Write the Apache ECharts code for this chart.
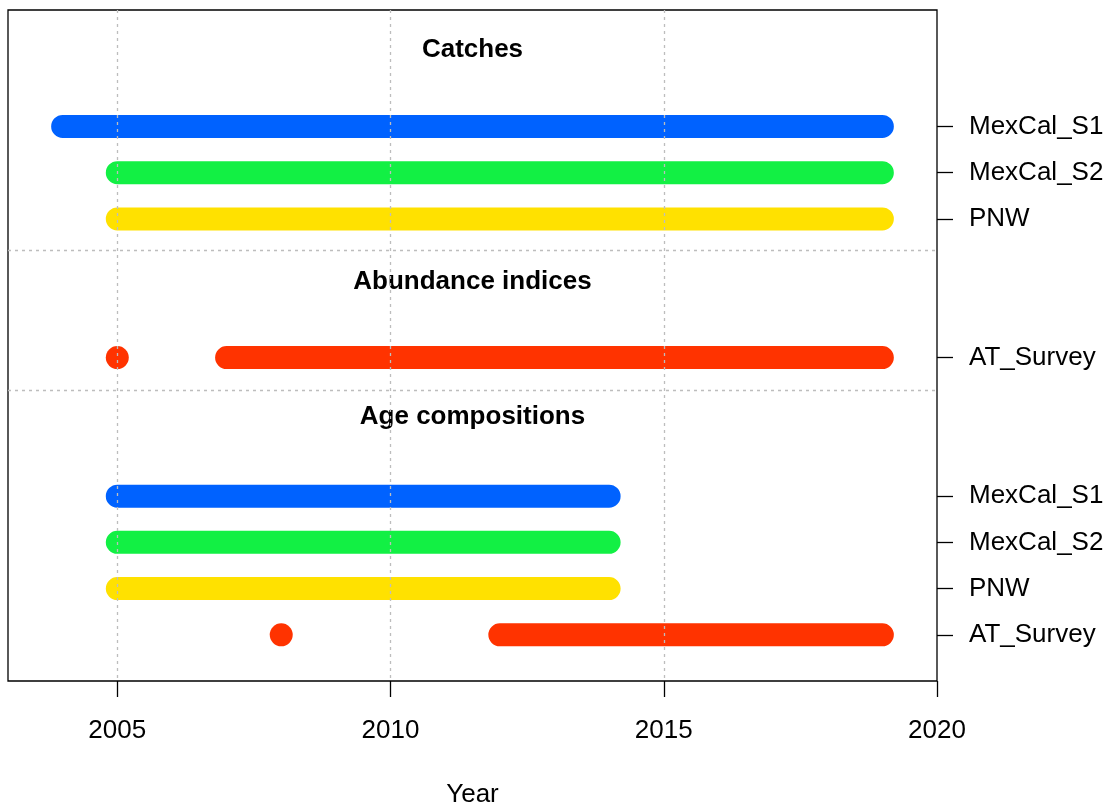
<!DOCTYPE html>
<html>
<head>
<meta charset="utf-8">
<script src="https://cdn.jsdelivr.net/npm/echarts@6/dist/echarts.min.js"></script>
<style>
  html, body { margin: 0; padding: 0; background: #fff; }
  #main { width: 1116px; height: 810px; }
</style>
</head>
<body>
<div id="main"></div>
<script>
// data: years with observations, per fleet
var sectionTitles = ['Catches', 'Abundance indices', 'Age compositions'];
var rowNames = ['MexCal_S1', 'MexCal_S2', 'PNW', 'AT_Survey', 'MexCal_S1', 'MexCal_S2', 'PNW', 'AT_Survey'];
var catchS1 = [2004, 2005, 2006, 2007, 2008, 2009, 2010, 2011, 2012, 2013, 2014, 2015, 2016, 2017, 2018, 2019];
var catchS2 = [2005, 2006, 2007, 2008, 2009, 2010, 2011, 2012, 2013, 2014, 2015, 2016, 2017, 2018, 2019];
var catchPNW = [2005, 2006, 2007, 2008, 2009, 2010, 2011, 2012, 2013, 2014, 2015, 2016, 2017, 2018, 2019];
var indexAT = [2005, 2007, 2008, 2009, 2010, 2011, 2012, 2013, 2014, 2015, 2016, 2017, 2018, 2019];
var ageS1 = [2005, 2006, 2007, 2008, 2009, 2010, 2011, 2012, 2013, 2014];
var ageS2 = [2005, 2006, 2007, 2008, 2009, 2010, 2011, 2012, 2013, 2014];
var agePNW = [2005, 2006, 2007, 2008, 2009, 2010, 2011, 2012, 2013, 2014];
var ageAT = [2008, 2012, 2013, 2014, 2015, 2016, 2017, 2018, 2019];
var xTicks = [2005, 2010, 2015, 2020];

// layout (in y units, top = 0)
var rowPos = [2.52, 3.52, 4.52, 7.52, 10.52, 11.52, 12.52, 13.52];
var titlePos = [0.87, 5.89, 8.81];
var sepPos = [5.19, 8.22];
var fleetColors = {MexCal_S1: '#0062FF', MexCal_S2: '#12F044', PNW: '#FFE100', AT_Survey: '#FF3300'};
var rowYears = [catchS1, catchS2, catchPNW, indexAT, ageS1, ageS2, agePNW, ageAT];

var font = '"Liberation Sans", Arial, sans-serif';
var series = [];

// dotted grid lines
series.push({
  type: 'line', data: [], z: 1, silent: true,
  markLine: {
    symbol: 'none', silent: true, label: {show: false},
    lineStyle: {color: '#BDBDBD', type: [3, 4], width: 1.3},
    data: [{xAxis: 2005}, {xAxis: 2010}, {xAxis: 2015}].concat(sepPos.map(function (p) { return {yAxis: p}; }))
  }
});

rowYears.forEach(function (years, i) {
  var col = fleetColors[rowNames[i]];
  var y = rowPos[i];
  // split into runs of consecutive years
  var runs = [];
  var cur = [years[0]];
  for (var k = 1; k < years.length; k++) {
    if (years[k] === years[k - 1] + 1) cur.push(years[k]);
    else { runs.push(cur); cur = [years[k]]; }
  }
  runs.push(cur);
  runs.forEach(function (r) {
    if (r.length === 1) {
      series.push({
        type: 'scatter', z: 3, silent: true, symbolSize: 23,
        itemStyle: {color: col, opacity: 1},
        data: [[r[0], y]]
      });
    } else {
      series.push({
        type: 'line', z: 3, silent: true, symbol: 'none',
        lineStyle: {color: col, width: 23, cap: 'round'},
        data: r.map(function (yr) { return [yr, y]; })
      });
    }
  });
});

// section titles
series.push({
  type: 'scatter', z: 4, silent: true, symbolSize: 0,
  itemStyle: {opacity: 1},
  label: {
    show: true, position: 'inside', color: '#000', fontFamily: font,
    fontSize: 26, fontWeight: 'bold', textBorderWidth: 0,
    formatter: function (p) { return p.value[2]; }
  },
  data: sectionTitles.map(function (t, i) { return [2011.5, titlePos[i], t]; })
});

var chart = echarts.init(document.getElementById('main'), null, {renderer: 'canvas'});
chart.setOption({
  animation: false,
  backgroundColor: '#fff',
  grid: {
    left: 8, right: 179, top: 10, bottom: 129, outerBoundsMode: 'none', containLabel: false,
    show: true, borderColor: '#000', borderWidth: 1.3, backgroundColor: 'transparent'
  },
  xAxis: {
    type: 'value', min: 2003, max: 2020,
    name: 'Year', nameLocation: 'middle', nameGap: 101,
    nameTextStyle: {fontFamily: font, fontSize: 26, color: '#000'},
    axisLine: {show: false, onZero: false},
    axisTick: {show: true, customValues: xTicks, length: 16, lineStyle: {color: '#000', width: 1.3}},
    axisLabel: {
      customValues: xTicks, margin: 37, fontFamily: font, fontSize: 26, color: '#000',
      formatter: function (v) { return String(v); }
    },
    splitLine: {show: false}
  },
  yAxis: {
    type: 'value', min: 0, max: 14.52, inverse: true, position: 'right',
    axisLine: {show: false, onZero: false},
    axisTick: {show: true, customValues: rowPos, length: 16, lineStyle: {color: '#000', width: 1.3}},
    axisLabel: {
      customValues: rowPos, margin: 32, fontFamily: font, fontSize: 26, color: '#000',
      formatter: function (v) { return rowNames[rowPos.indexOf(v)]; }
    },
    splitLine: {show: false}
  },
  series: series
});
</script>
</body>
</html>
